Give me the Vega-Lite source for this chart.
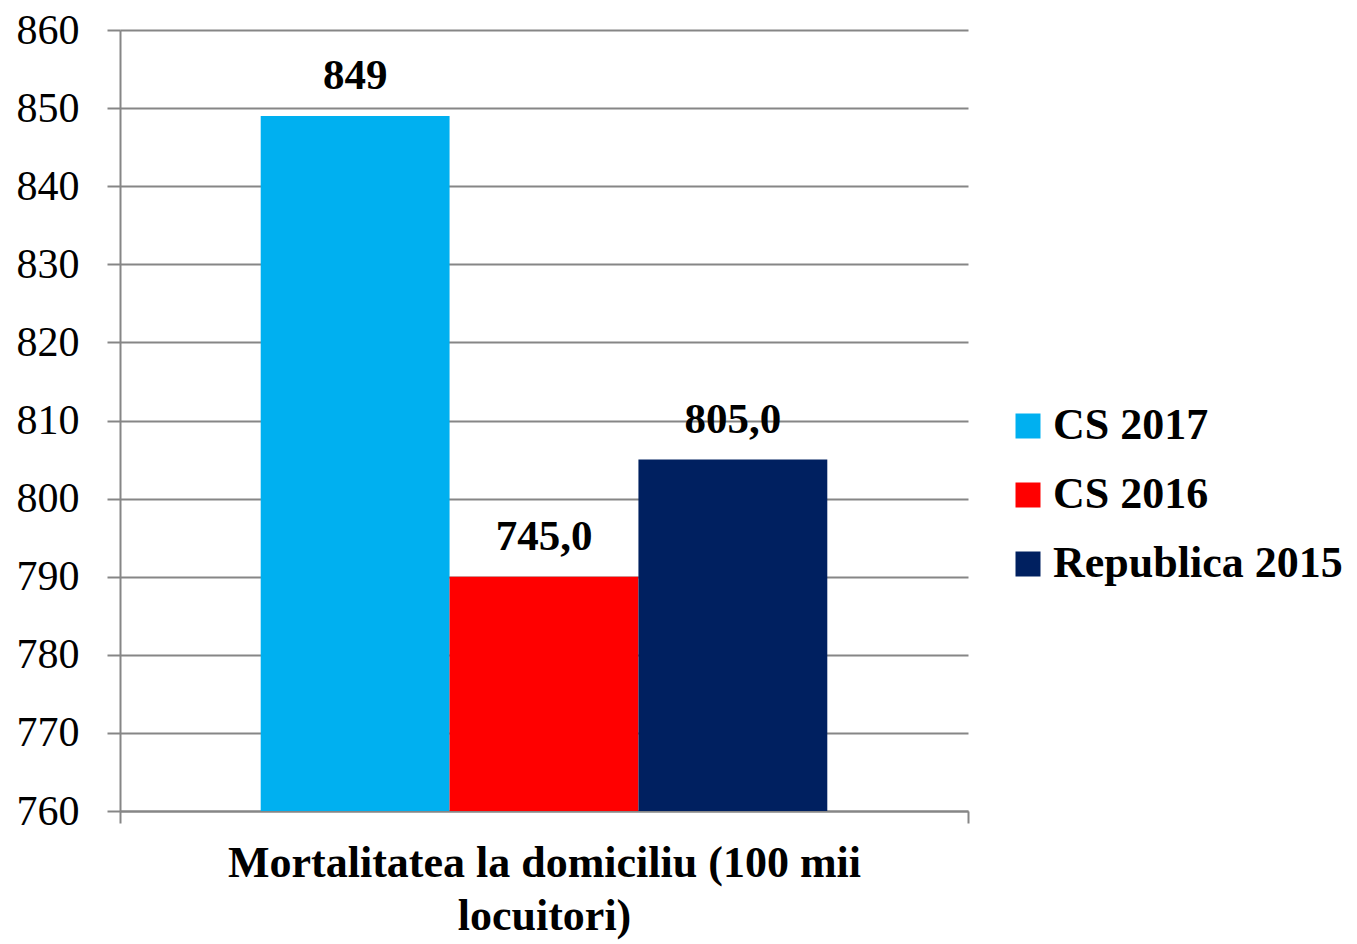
{
  "$schema": "https://vega.github.io/schema/vega-lite/v6.json",
  "autosize": "none",
  "width": 848,
  "height": 781,
  "padding": {"left": 120, "top": 30, "right": 389, "bottom": 133},
  "background": "white",
  "config": {
    "font": "Liberation Serif",
    "view": {"stroke": null}
  },
  "data": {
    "values": [
      {"category": "Mortalitatea la domiciliu (100 mii locuitori)", "series": "CS 2017", "value": 849, "label": "849"},
      {"category": "Mortalitatea la domiciliu (100 mii locuitori)", "series": "CS 2016", "value": 790, "label": "745,0"},
      {"category": "Mortalitatea la domiciliu (100 mii locuitori)", "series": "Republica 2015", "value": 805, "label": "805,0"}
    ]
  },
  "encoding": {
    "x": {
      "field": "category",
      "type": "nominal",
      "title": null,
      "scale": {"paddingInner": 0, "paddingOuter": 0},
      "axis": {
        "labelExpr": "datum.index < 0 ? '' : ['Mortalitatea la domiciliu (100 mii', 'locuitori)']",
        "labelFont": "Liberation Serif",
        "labelFontSize": 44,
        "labelFontWeight": "bold",
        "labelColor": "black",
        "labelLineHeight": 53,
        "labelLimit": 1000,
        "labelAngle": 0,
        "labelPadding": 18,
        "tickBand": "extent",
        "tickSize": 12,
        "tickColor": "#868686",
        "tickWidth": 2,
        "domainColor": "#868686",
        "domainWidth": 2,
        "grid": false
      }
    },
    "xOffset": {
      "field": "series",
      "type": "nominal",
      "sort": ["CS 2017", "CS 2016", "Republica 2015"],
      "scale": {"paddingInner": 0, "paddingOuter": 0.745}
    },
    "y": {
      "field": "value",
      "type": "quantitative",
      "title": null,
      "scale": {"domain": [760, 860], "nice": false, "zero": false},
      "axis": {
        "values": [760, 770, 780, 790, 800, 810, 820, 830, 840, 850, 860],
        "labelFont": "Liberation Serif",
        "labelFontSize": 42,
        "labelColor": "black",
        "labelPadding": 28,
        "tickSize": 13,
        "tickColor": "#868686",
        "tickWidth": 2,
        "domainColor": "#868686",
        "domainWidth": 2,
        "gridColor": "#868686",
        "gridWidth": 2,
        "grid": true
      }
    }
  },
  "layer": [
    {
      "mark": {"type": "bar"},
      "encoding": {
        "y2": {"datum": 760},
        "color": {
          "field": "series",
          "type": "nominal",
          "sort": ["CS 2017", "CS 2016", "Republica 2015"],
          "scale": {"domain": ["CS 2017", "CS 2016", "Republica 2015"], "range": ["#00B0F0", "#FF0000", "#002060"]},
          "legend": {
            "title": null,
            "orient": "none",
            "legendX": 886,
            "legendY": 374,
            "symbolType": "square",
            "symbolSize": 625,
            "symbolStrokeWidth": 0,
            "labelFont": "Liberation Serif",
            "labelFontSize": 44,
            "labelFontWeight": "bold",
            "labelColor": "black",
            "labelOffset": 3,
            "labelLimit": 400,
            "rowPadding": 25
          }
        }
      }
    },
    {
      "mark": {"type": "text", "font": "Liberation Serif", "fontSize": 43, "fontWeight": "bold", "color": "black", "baseline": "alphabetic", "dy": -27},
      "encoding": {
        "text": {"field": "label"}
      }
    }
  ]
}
